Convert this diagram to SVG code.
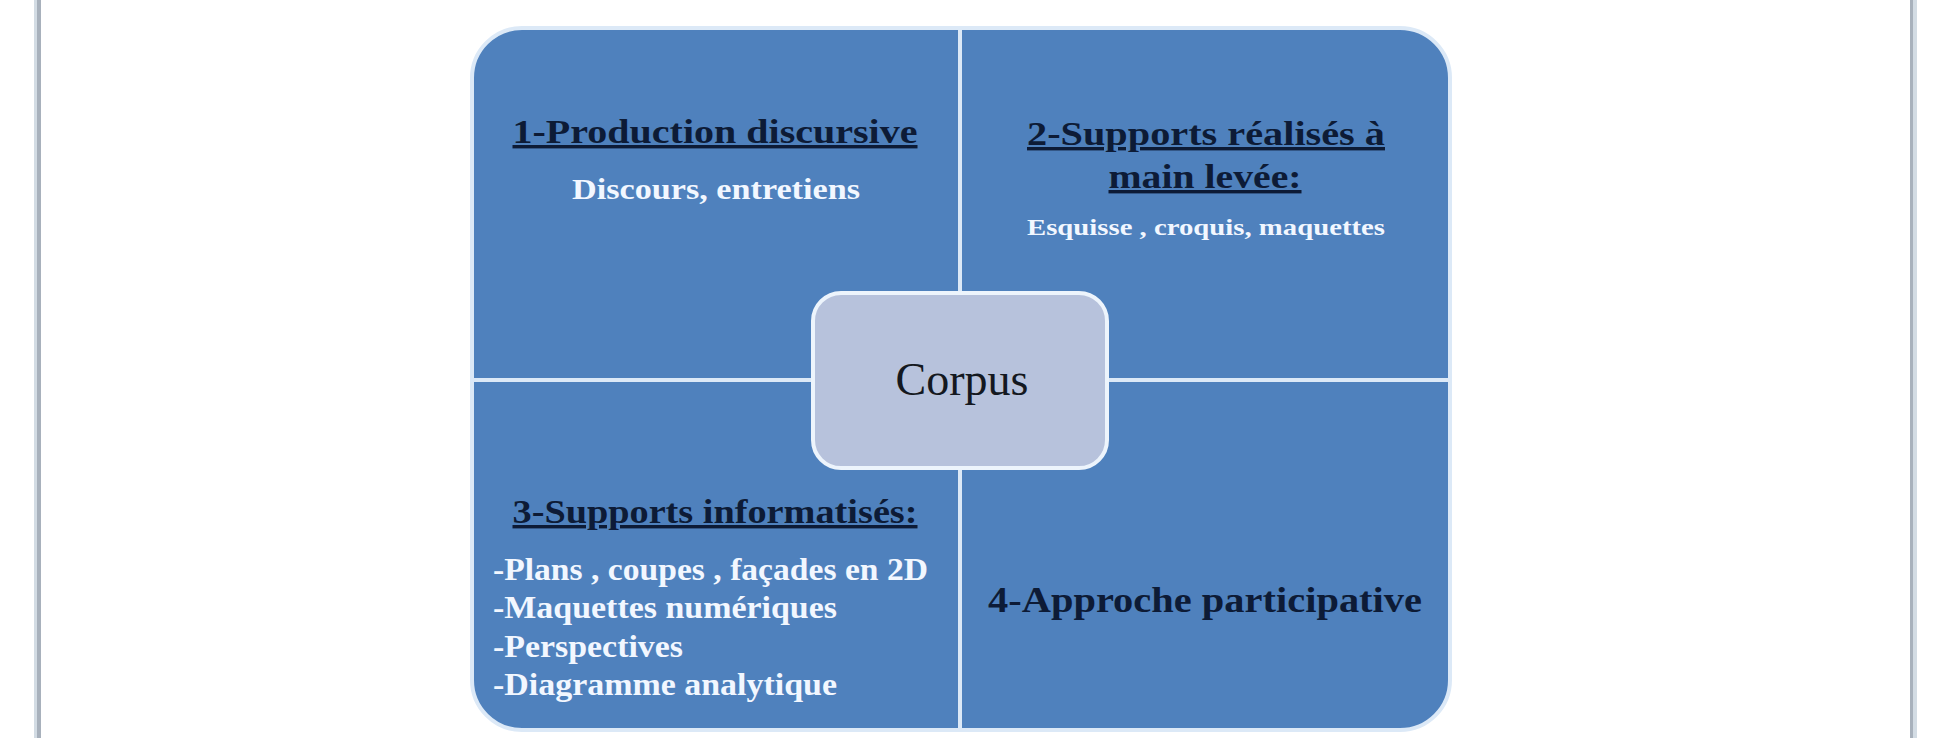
<svg xmlns="http://www.w3.org/2000/svg" width="1946" height="738" viewBox="0 0 1946 738">
  <style>
    .quad { fill: #4F81BD; stroke: #DCE9F7; stroke-width: 4; }
    .title { font-family: "Liberation Serif", "Times New Roman", serif; font-weight: bold; fill: #0D1B36; text-decoration: underline; }
    .title2 { font-family: "Liberation Serif", "Times New Roman", serif; font-weight: bold; fill: #0D1B36; }
    .sub { font-family: "Liberation Serif", "Times New Roman", serif; font-weight: bold; fill: #F2F7FF; }
    .center { font-family: "Liberation Serif", "Times New Roman", serif; fill: #141820; }
  </style>
  <rect x="0" y="0" width="1946" height="738" fill="#FFFFFF"/>
  <g id="frame">
    <rect x="34" y="0" width="3" height="738" fill="#D3DCE4"/>
    <rect x="37" y="0" width="4" height="738" fill="#A8B1BC"/>
    <rect x="1910" y="0" width="3" height="738" fill="#A8B1BC"/>
    <rect x="1913" y="0" width="4" height="738" fill="#D3DCE4"/>
  </g>
  <g id="connectors"></g>
  <g id="q1">
    <path class="quad" d="M472,380 L472,78 A50,50 0 0 1 522,28 L960,28 L960,380 Z"/>
    <text class="title" x="715" y="143" font-size="34" text-anchor="middle" textLength="405" lengthAdjust="spacingAndGlyphs">1-Production discursive</text>
    <text class="sub" x="716" y="199" font-size="29" text-anchor="middle" textLength="288" lengthAdjust="spacingAndGlyphs">Discours, entretiens</text>
  </g>
  <g id="q2">
    <path class="quad" d="M960,28 L1400,28 A50,50 0 0 1 1450,78 L1450,380 L960,380 Z"/>
    <text class="title" x="1206" y="145" font-size="34" text-anchor="middle" textLength="358" lengthAdjust="spacingAndGlyphs">2-Supports réalisés à</text>
    <text class="title" x="1205" y="188" font-size="34" text-anchor="middle" textLength="193" lengthAdjust="spacingAndGlyphs">main levée:</text>
    <text class="sub" x="1206" y="235" font-size="24" text-anchor="middle" textLength="358" lengthAdjust="spacingAndGlyphs">Esquisse , croquis, maquettes</text>
  </g>
  <g id="q3">
    <path class="quad" d="M472,380 L960,380 L960,730 L522,730 A50,50 0 0 1 472,680 Z"/>
    <text class="title" x="715" y="523" font-size="34" text-anchor="middle" textLength="405" lengthAdjust="spacingAndGlyphs">3-Supports informatisés:</text>
    <text class="sub" x="493" y="580" font-size="32" textLength="435" lengthAdjust="spacingAndGlyphs">-Plans , coupes , façades en 2D</text>
    <text class="sub" x="493" y="618" font-size="32" textLength="344" lengthAdjust="spacingAndGlyphs">-Maquettes numériques</text>
    <text class="sub" x="493" y="657" font-size="32" textLength="190" lengthAdjust="spacingAndGlyphs">-Perspectives</text>
    <text class="sub" x="493" y="695" font-size="32" textLength="344" lengthAdjust="spacingAndGlyphs">-Diagramme analytique</text>
  </g>
  <g id="q4">
    <path class="quad" d="M960,380 L1450,380 L1450,680 A50,50 0 0 1 1400,730 L960,730 Z"/>
    <text class="title2" x="1205" y="612" font-size="35" text-anchor="middle" textLength="434" lengthAdjust="spacingAndGlyphs">4-Approche participative</text>
  </g>
  <g id="corpus">
    <rect x="813" y="293" width="294" height="175" rx="28" ry="28" fill="#B7C2DC" stroke="#EDF4FC" stroke-width="4"/>
    <text class="center" x="962" y="395" font-size="46" text-anchor="middle" textLength="133" lengthAdjust="spacingAndGlyphs">Corpus</text>
  </g>
</svg>
